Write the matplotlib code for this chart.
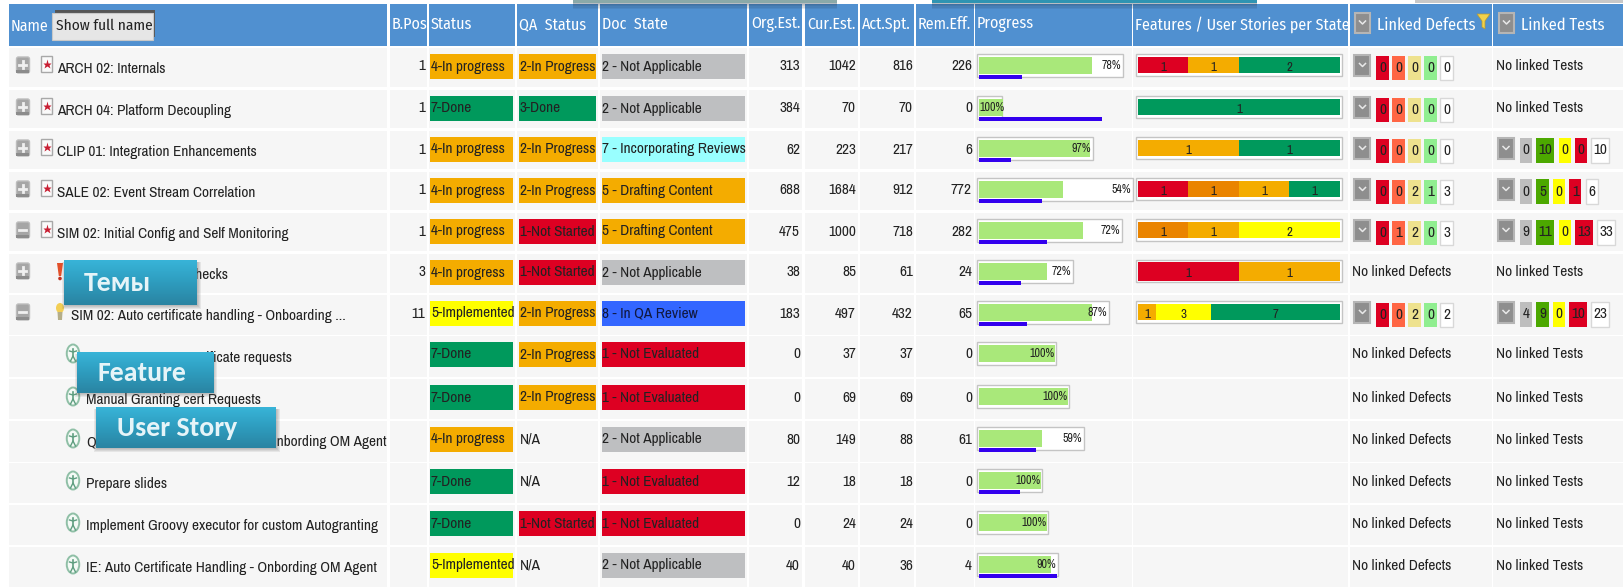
import numpy as np
import matplotlib
matplotlib.use("Agg")
import matplotlib.pyplot as plt
from matplotlib import font_manager as fm
from matplotlib.patches import Rectangle, FancyBboxPatch, Polygon, Ellipse, Circle

# narrow faces if the machine has them, plain Liberation Sans a bit smaller if not
try:
    fm.findfont('Archivo Narrow', fallback_to_default=False)
    fm.findfont('Fira Sans Condensed', fallback_to_default=False)
    fs, hs = 11.0, 11.5
except ValueError:
    fs, hs = 9.1, 9.6
plt.rcParams['font.family'] = ['Archivo Narrow', 'Liberation Sans', 'DejaVu Sans']
head_font = ['Fira Sans Condensed', 'Liberation Sans', 'DejaVu Sans']

# table content
headers = ["B.Pos", "Status", "QA  Status", "Doc  State", "Org.Est.", "Cur.Est.", "Act.Spt.", "Rem.Eff.",
           "Progress", "Features / User Stories per State"]
names = ["ARCH 02: Internals", "ARCH 04: Platform Decoupling", "CLIP 01: Integration Enhancements",
         "SALE 02: Event Stream Correlation", "SIM 02: Initial Config and Self Monitoring", "",
         "SIM 02: Auto certificate handling - Onboarding ...", "", "Manual Granting cert Requests", "QA",
         "Prepare slides", "Implement Groovy executor for custom Autogranting",
         "IE: Auto Certificate Handling - Onbording OM Agent"]
bpos = [1, 1, 1, 1, 1, 3, 11, None, None, None, None, None, None]
status = ["4-In progress", "7-Done", "4-In progress", "4-In progress", "4-In progress", "4-In progress",
          "5-Implemented", "7-Done", "7-Done", "4-In progress", "7-Done", "7-Done", "5-Implemented"]
qa_status = ["2-In Progress", "3-Done", "2-In Progress", "2-In Progress", "1-Not Started", "1-Not Started",
             "2-In Progress", "2-In Progress", "2-In Progress", "N/A", "N/A", "1-Not Started", "N/A"]
doc_state = ["2 - Not Applicable", "2 - Not Applicable", "7 - Incorporating Reviews", "5 - Drafting Content",
             "5 - Drafting Content", "2 - Not Applicable", "8 - In QA Review", "1 - Not Evaluated",
             "1 - Not Evaluated", "2 - Not Applicable", "1 - Not Evaluated", "1 - Not Evaluated",
             "2 - Not Applicable"]
org_est = [313, 384, 62, 688, 475, 38, 183, 0, 0, 80, 12, 0, 40]
cur_est = [1042, 70, 223, 1684, 1000, 85, 497, 37, 69, 149, 18, 24, 40]
act_spt = [816, 70, 217, 912, 718, 61, 432, 37, 69, 88, 18, 24, 36]
rem_eff = [226, 0, 6, 772, 282, 24, 65, 0, 0, 61, 0, 0, 4]
progress_pct = [78, 100, 97, 54, 72, 72, 87, 100, 100, 59, 100, 100, 90]
progress_box = [146, 25, 116, 156, 145, 96, 132, 79, 92, 107, 65, 71, 81]
progress_fill = [113, 24, 111, 84, 104, 68, 113, 76, 89, 63, 62, 68, 72]
progress_blue = [43, 123, 32, 63, 68, 42, 48, 0, 0, 57, 41, 0, 78]

feature_states = [
    [("red", 1), ("orange", 1), ("green", 2)],
    [("green", 1)],
    [("orange", 1), ("green", 1)],
    [("red", 1), ("dark", 1), ("orange", 1), ("green", 1)],
    [("dark", 1), ("orange", 1), ("yellow", 2)],
    [("red", 1), ("orange", 1)],
    [("orange", 1), ("yellow", 3), ("green", 7)],
]
defects = [[0, 0, 0, 0, 0], [0, 0, 0, 0, 0], [0, 0, 0, 0, 0], [0, 0, 2, 1, 3], [0, 1, 2, 0, 3], None, [0, 0, 2, 0, 2],
           None, None, None, None, None, None]
tests = [None, None, [0, 10, 0, 0, 10], [0, 5, 0, 1, 6], [9, 11, 0, 13, 33], None, [4, 9, 0, 10, 23],
         None, None, None, None, None, None]

# layout in pixels
col_edges = [(9, 387), (390, 427), (429, 515), (517, 598), (600, 747), (749, 802), (805, 858), (860, 914),
             (916, 974), (975, 1132), (1133, 1348), (1350, 1492), (1493, 1624)]
row_edges = [(48, 87), (90, 128), (131, 169), (172, 210), (213, 251), (254, 293), (295, 335),
             (336, 377), (379, 419), (421, 462), (463, 503), (505, 545), (547, 587)]

colors = {"red": "#DD0022", "orange": "#F4AC00", "dark": "#EA8400", "green": "#00995C", "yellow": "#FFFF00"}
status_colors = {"4": colors["orange"], "7": colors["green"], "5": colors["yellow"]}
qa_colors = {"2": colors["orange"], "3": colors["green"], "1": colors["red"]}
doc_colors = {"2": "#BEBFC1", "7": "#99FFFF", "5": colors["orange"], "8": "#3366FF", "1": colors["red"]}
defect_colors = ["#DD0022", "#FF6644", "#EEE28E", "#90EE90", "white"]
test_colors = ["#BEBEBE", "#4CA800", "#FFFF00", "#DD0022", "white"]
header_blue = "#5090D0"
txt = "#222222"

fig = plt.figure(figsize=(16.24, 5.87), dpi=100)
ax = fig.add_axes([0, 0, 1, 1])
ax.set_xlim(0, 1624)
ax.set_ylim(587, 0)
ax.axis("off")


def rect(x0, y0, x1, y1, color, z=2, ec="none", lw=0, alpha=None):
    ax.add_patch(Rectangle((x0, y0), x1 - x0, y1 - y0, fc=color, ec=ec, lw=lw, zorder=z, alpha=alpha))


def button(x0, y0, x1, y1, z=3):
    rect(x0, y0, x1, y1, "#8E8E8E", z, ec="#B5B5B5", lw=1.5)
    cx, cy = (x0 + x1) / 2, (y0 + y1) / 2
    ax.plot([cx - 3, cx, cx + 3], [cy - 2, cy + 1, cy - 2], color="#E8E8E8", lw=1.1, zorder=z + 1)


def callout(x0, y0, x1, y1, label, tx, size):
    for k in range(1, 5):
        rect(x0 - k + 2, y0 + 2, x1 + k, y1 + k, "#555555", 8, alpha=0.10)
    grad = np.linspace(0, 1, 64).reshape(-1, 1)
    cmap = matplotlib.colors.LinearSegmentedColormap.from_list("box", ["#38B4D8", "#2E9CBE", "#2A84A2"])
    ax.imshow(grad, extent=(x0, x1, y1, y0), cmap=cmap, aspect="auto", zorder=9)
    ax.text(tx, (y0 + y1) / 2 + 0.5, label, color="#E6F4F8", fontsize=size, fontweight="bold",
            family=["Carlito", "Open Sans", "DejaVu Sans"], ha="left", va="center", zorder=10)


# header band
for x0, x1 in col_edges:
    rect(x0, 4, x1, 46, header_blue)

# cropped callouts at the very top, with their shadow on the header
for x0, x1, c in [(573, 837, "#8AA9A9"), (932, 1257, "#2F94B2"), (1415, 1624, "#C8C8C8")]:
    rect(x0, 0, x1, 3, c, 3)
    if c != "#C8C8C8":
        for k in range(1, 5):
            rect(x0, 3, x1, 3 + 1.5 * k, "#223344", 3, alpha=0.09)

ax.text(11, 26, "Name", color="white", fontsize=hs, family=head_font, va="center", zorder=4)
rect(55, 10, 155, 37, "#555555", 3)
rect(52, 13, 153, 40, "#E6E6E6", 4, ec="#C8C8C8", lw=0.8)
ax.text(56, 26, "Show full name", color="#222222", fontsize=hs - 0.5, family=head_font, va="center", zorder=5)
for (x0, x1), label in zip(col_edges[1:11], headers):
    ax.text(x0 + 2, 24.5, label, color="white", fontsize=hs, family=head_font, va="center", zorder=4)
button(1355, 13, 1370, 33)
ax.text(1377, 25.5, "Linked Defects", color="white", fontsize=hs + 0.3, family=head_font, va="center", zorder=4)
ax.add_patch(Polygon([(1477, 14), (1490, 14), (1485, 21), (1485, 29), (1482, 27), (1482, 21)], fc="#F2D24A",
                     ec="#B89A30", lw=0.5, zorder=4))
button(1499, 13, 1514, 33)
ax.text(1521, 25.5, "Linked Tests", color="white", fontsize=hs + 0.3, family=head_font, va="center", zorder=4)

# rows
for i, (top, bot) in enumerate(row_edges):
    for x0, x1 in col_edges:
        rect(x0, top, x1, bot, "#F6F6F6", 1)
    mid = top + 18.5

    # name column: tree toggle, type icon, label
    if i < 7:
        box_top = top + 9
        ax.add_patch(FancyBboxPatch((16.5, box_top), 13, 16, boxstyle="round,pad=0,rounding_size=2",
                                    fc="#A6A6A6", ec="#BDBDBD", lw=1, zorder=3))
        rect(16.5, box_top + 13, 29.5, box_top + 16, "#8C8C8C", 3)
        ax.plot([19.5, 26.5], [box_top + 7.5] * 2, color="#F0F0F0", lw=2, zorder=4)
        if i not in (4, 6):
            ax.plot([23, 23], [box_top + 4, box_top + 11], color="#F0F0F0", lw=2, zorder=4)
    if i < 5:
        rect(41.5, top + 8, 52.5, top + 24, "#FAFAFA", 3, ec="#A8A8A8", lw=1)
        ax.plot(47, top + 16, marker="*", ms=6.5, color="#C81E32", mec="none", zorder=4)
    elif i == 5:
        ax.add_patch(Polygon([(57, top + 9), (63, top + 9), (61.2, top + 22), (58.8, top + 22)], fc="#E2502A",
                             ec="none", zorder=4))
        ax.add_patch(Circle((60, top + 24.5), 1.8, fc="#C03020", ec="none", zorder=4))
    elif i == 6:
        ax.add_patch(Ellipse((60, top + 13), 8, 10, fc="#F2CE55", ec="none", zorder=4))
        ax.add_patch(Polygon([(57.5, top + 17), (62.5, top + 17), (62, top + 25), (58, top + 25)], fc="#B5AE88",
                             ec="none", zorder=4))
    else:
        ax.add_patch(Ellipse((73, top + 17.5), 12.5, 18, fc="#F4FAF6", ec="#8FBFA6", lw=1.4, zorder=4))
        ax.plot([73, 73], [top + 13, top + 20], color="#5E9E80", lw=1.2, zorder=5)
        ax.plot([69.5, 73, 76.5], [top + 15, top + 16, top + 15], color="#5E9E80", lw=1, zorder=5)
        ax.plot([70.5, 73, 75.5], [top + 25, top + 20, top + 25], color="#5E9E80", lw=1, zorder=5)
    name_x = 57 if i < 5 else (71 if i == 6 else 86)
    ax.text(name_x, top + 21, names[i], color=txt, fontsize=fs, va="center", zorder=4)

    if bpos[i] is not None:
        ax.text(425, mid, str(bpos[i]), color=txt, fontsize=fs, ha="right", va="center", zorder=4)

    # status badges
    rect(430.5, top + 6, 513.5, top + 31, status_colors[status[i][0]], 2)
    ax.text(431, mid, status[i], color=txt, fontsize=fs, va="center", zorder=4)
    if qa_status[i] != "N/A":
        rect(519.5, top + 6, 596, top + 31, qa_colors[qa_status[i][0]], 2)
    ax.text(520, mid, qa_status[i], color=txt, fontsize=fs, va="center", zorder=4)
    rect(602, top + 6, 745, top + 31, doc_colors[doc_state[i][0]], 2)
    ax.text(602.5, mid, doc_state[i], color=txt if doc_state[i][0] != "8" else "#101840", fontsize=fs,
            va="center", zorder=4)

    # effort numbers
    for right, val in zip([800, 856, 913, 972], [org_est[i], cur_est[i], act_spt[i], rem_eff[i]]):
        ax.text(right, mid, str(val), color=txt, fontsize=fs, ha="right", va="center", zorder=4)

    # progress bar
    ax.barh(top + 17.5, progress_box[i], left=977.5, height=23, color="white", edgecolor="#C4C4C4", lw=1, zorder=2)
    ax.barh(top + 17.5, progress_fill[i], left=979, height=17, color="#A9E87A", zorder=3)
    if progress_blue[i] > 0:
        ax.barh(top + 29, progress_blue[i], left=979, height=3.5, color="#3300EE", zorder=4)
    pct_label = f"{progress_pct[i]}%"
    if i == 1:
        ax.text(979.5, top + 17.5, pct_label, color=txt, fontsize=fs * 0.78, va="center", zorder=5)
    else:
        ax.text(977.5 + progress_box[i] - 2, top + 17.5, pct_label, color=txt, fontsize=fs * 0.78, ha="right",
                va="center", zorder=5)

    # features per state
    if i < len(feature_states):
        rect(1136, top + 6, 1342, top + 28, "white", 2, ec="#C4C4C4", lw=1)
        total = sum(c for _, c in feature_states[i])
        left = 1138
        for state, count in feature_states[i]:
            w = 202 * count / total
            ax.barh(top + 17, w, left=left, height=16 if i != 5 else 19, color=colors[state], zorder=3)
            ax.text(left + w / 2, top + 19.5, str(count), color="#222222", fontsize=fs * 0.85, ha="center",
                    va="center", zorder=4)
            left += w

    # linked defects and tests
    if defects[i] is None:
        ax.text(1352.5, mid, "No linked Defects", color=txt, fontsize=fs, va="center", zorder=4)
    else:
        button(1354.5, top + 7, 1370.5, top + 28)
        x = 1376.5
        for val, c in zip(defects[i], defect_colors):
            w = 12.5 if c != "white" else 13
            rect(x, top + 7.5, x + w, top + 32, c, 2, ec="#D8D8D8" if c == "white" else "none",
                 lw=1 if c == "white" else 0)
            ax.text(x + w / 2, top + 20, str(val), color="#222222", fontsize=fs, ha="center", va="center", zorder=4)
            x += w + 3.5
    if tests[i] is None:
        ax.text(1496, mid, "No linked Tests", color=txt, fontsize=fs, va="center", zorder=4)
    else:
        button(1498, top + 7, 1514, top + 28)
        x = 1520
        for val, c in zip(tests[i], test_colors):
            w = 12.2 if val < 10 else 18
            rect(x, top + 7, x + w, top + 32, c, 2, ec="#D8D8D8" if c == "white" else "none",
                 lw=1 if c == "white" else 0)
            ax.text(x + w / 2, top + 19.5, str(val), color="#222222", fontsize=fs, ha="center", va="center", zorder=4)
            x += w + 4.2

# text running under the callouts, right aligned to where it shows again
ax.text(228.5, 275, "checks", color=txt, fontsize=fs, ha="right", va="center", zorder=4)
ax.text(292, 358, "certificate requests", color=txt, fontsize=fs, ha="right", va="center", zorder=4)
ax.text(386.5, 442, "Onbording OM Agent", color=txt, fontsize=fs, ha="right", va="center", zorder=4)

callout(64, 260, 197, 305, "Темы", 84, 20)
callout(77, 352, 213.5, 393, "Feature", 98, 20)
callout(96.5, 407, 276.5, 448, "User Story", 117, 20)

ax.set_xlim(0, 1624)
ax.set_ylim(587, 0)
fig.savefig("out.png", dpi=100, facecolor="white")
